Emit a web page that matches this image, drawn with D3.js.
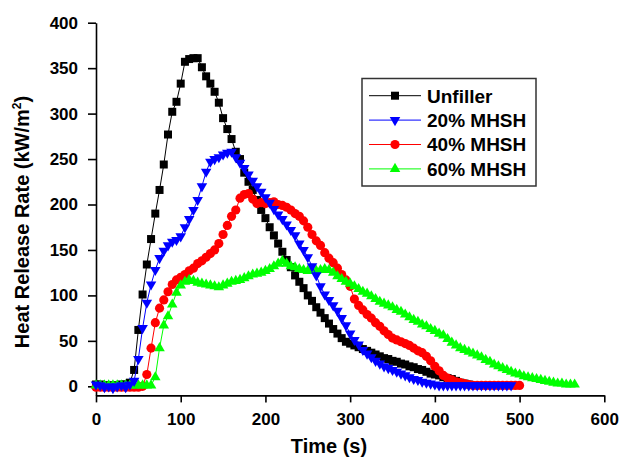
<!DOCTYPE html>
<html>
<head>
<meta charset="utf-8">
<script src="https://cdn.jsdelivr.net/npm/d3@7"></script>
<style>
  html, body { margin: 0; padding: 0; background: #fff; }
  svg { display: block; font-family: "Liberation Sans", Arial, sans-serif; }
</style>
</head>
<body>
<svg id="chart" width="624" height="458"></svg>
<script>
// ---- data (sampled every 5 s) ----
const timeStep = 5;
const seriesNames = ["Unfiller", "20% MHSH", "40% MHSH", "60% MHSH"];
const xTicks = [0, 100, 200, 300, 400, 500, 600];
const yTicks = [0, 50, 100, 150, 200, 250, 300, 350, 400];

const unfiller = [2,2,1,1,1,1,2,2,4,18,62,101,134,162,190,216,244,277,302,313,
  333,357,360,361,361,351,341,333,324,312,295,283,272,258,250,235,225,216,205,194,
  185,175,166,157,148,139,131,122,115,108,100,94,87,81,75,69,63,58,53,49,
  47,45,43,41,39,37,35,33,31,30,28,27,25,24,22,21,19,18,16,14,
  13,12,10,9,8,6,4,3,2];
const mhsh20 = [2,1,-1,0,-2,0,1,-1,2,6,30,64,92,112,128,141,149,155,159,161,
  165,175,184,194,205,220,236,247,250,252,255,257,258,252,246,240,233,226,220,214,
  208,202,195,189,184,178,172,166,157,150,142,132,122,110,101,95,89,83,75,67,
  58,51,46,40,36,32,28,25,22,20,18,16,14,12,10,8,7,5,4,3,
  2,1,1,1,1,1,1,1,1,1,1,1,1,1,1,1,1,1,1];
const mhsh40 = [-1,-1,-1,-1,-1,-1,-1,-1,-1,-1,-1,0,13,42,70,86,95,104,112,117,
  120,123,127,130,135,138,142,146,150,157,167,177,187,194,207,211,212,206,201,202,
  201,202,203,200,199,197,194,190,187,182,175,167,160,155,147,141,136,130,123,117,
  110,96,89,84,79,75,70,66,61,57,53,51,49,47,45,42,39,37,33,28,
  22,17,12,9,7,5,4,3,2,1,1,1,1,1,1,1,1,1,1,1,1];
const mhsh60 = [1,1,1,1,1,1,1,1,1,1,1,1,1,1,10,42,67,77,90,103,
  111,115,117,116,114,113,112,111,110,109,111,113,115,116,117,119,121,123,124,125,
  127,129,132,135,138,135,132,131,129,128,127,127,127,128,129,128,125,121,118,115,
  113,110,107,104,102,99,96,93,91,89,87,84,82,79,76,73,71,68,66,63,
  61,58,56,52,48,45,42,40,38,36,34,32,29,27,24,22,20,18,16,14,
  13,11,10,9,8,7,6,5,4,3,3,2,2,2];

const seriesValues = [unfiller, mhsh20, mhsh40, mhsh60];
const seriesColors = ["#000000", "#0000ff", "#ff0000", "#00ff00"];
const seriesShapes = ["square", "triangleDown", "circle", "triangleUp"];
const drawOrder = [0, 2, 3, 1];

// ---- layout ----
const svg = d3.select("#chart");
const x = d3.scaleLinear().domain([0, 600]).range([96, 604.3]);
const y = d3.scaleLinear().domain([-10, 400]).range([395.4, 22.7]);

const fontBold = "bold";

// axes
const xAxis = d3.axisBottom(x).tickValues(xTicks).tickSize(7).tickSizeOuter(0).tickPadding(11);
const yAxis = d3.axisLeft(y).tickValues(yTicks).tickSize(8).tickSizeOuter(0).tickPadding(10);

const gx = svg.append("g").attr("transform", `translate(0,${y(-10)})`).call(xAxis);
const gy = svg.append("g").attr("transform", `translate(${x(0)},0)`).call(yAxis);
[gx, gy].forEach(g => {
  g.select(".domain").attr("stroke", "#000").attr("stroke-width", 1.6);
  g.selectAll(".tick line").attr("stroke", "#000").attr("stroke-width", 1.6);
  g.selectAll(".tick text").attr("fill", "#000")
    .attr("font-size", 17).attr("font-weight", fontBold)
    .attr("font-family", '"Liberation Sans", Arial, sans-serif');
});

// axis titles
svg.append("text")
  .attr("x", 329).attr("y", 452.5)
  .attr("text-anchor", "middle")
  .attr("font-size", 20).attr("font-weight", fontBold)
  .text("Time (s)");

const yt = svg.append("text")
  .attr("transform", "translate(29,222) rotate(-90)")
  .attr("text-anchor", "middle")
  .attr("font-size", 20).attr("font-weight", fontBold);
yt.append("tspan").text("Heat Release Rate (kW/m");
yt.append("tspan").attr("font-size", 12).attr("dy", -8).text("2");
yt.append("tspan").attr("dy", 8).text(")");

// marker generator
const symbolFor = {
  square: d3.symbol().type(d3.symbolSquare).size(64),
  circle: d3.symbol().type(d3.symbolCircle).size(66),
  triangleUp: d3.symbol().type(d3.symbolTriangle).size(48),
};
function markerPath(shape) {
  if (shape === "triangleDown") return symbolFor.triangleUp();
  return symbolFor[shape]();
}
function markerTransform(shape, px, py) {
  if (shape === "triangleDown") return `translate(${px},${py}) rotate(180)`;
  return `translate(${px},${py})`;
}

const line = d3.line()
  .x((d, i) => x(i * timeStep))
  .y(d => y(d));

drawOrder.forEach(si => {
  const vals = seriesValues[si];
  const g = svg.append("g");
  g.append("path")
    .attr("d", line(vals))
    .attr("fill", "none")
    .attr("stroke", seriesColors[si])
    .attr("stroke-width", 1);
  g.selectAll("path.m")
    .data(vals)
    .join("path")
    .attr("class", "m")
    .attr("d", markerPath(seriesShapes[si]))
    .attr("transform", (d, i) => markerTransform(seriesShapes[si], x(i * timeStep), y(d)))
    .attr("fill", seriesColors[si]);
});

// legend
const legend = svg.append("g").attr("transform", "translate(362,78.5)");
legend.append("rect")
  .attr("width", 174).attr("height", 107.5)
  .attr("fill", "#fff").attr("stroke", "#333").attr("stroke-width", 1.5);
seriesNames.forEach((name, i) => {
  const cy = 17.2 + i * 24.4;
  const row = legend.append("g").attr("transform", `translate(0,${cy})`);
  row.append("line").attr("x1", 7).attr("x2", 59).attr("y1", 0).attr("y2", 0)
    .attr("stroke", seriesColors[i]).attr("stroke-width", 1);
  row.append("path")
    .attr("d", markerPath(seriesShapes[i]))
    .attr("transform", markerTransform(seriesShapes[i], 33, 0))
    .attr("fill", seriesColors[i]);
  row.append("text")
    .attr("x", 65).attr("y", 0).attr("dy", "0.36em")
    .attr("font-size", 19).attr("font-weight", fontBold)
    .text(name);
});
</script>
</body>
</html>
